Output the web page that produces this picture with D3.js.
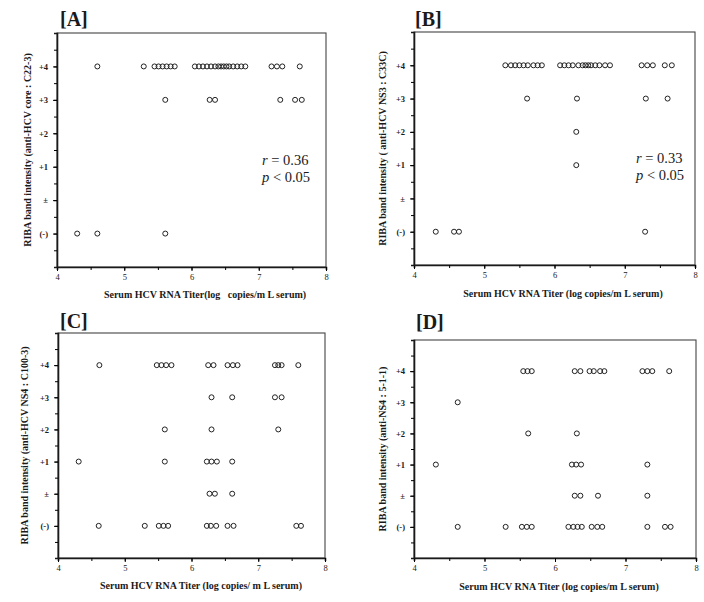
<!DOCTYPE html>
<html>
<head>
<meta charset="utf-8">
<script src="https://cdn.jsdelivr.net/npm/d3@7"></script>
<style>
  body { margin: 0; background: #fff; }
  svg { display: block; }
</style>
</head>
<body>
<svg id="chart" width="704" height="602"></svg>
<script>
// band intensity levels, bottom to top
const levelLabels = ["(-)", "\u00b1", "+1", "+2", "+3", "+4"];
const xTicks = [4, 5, 6, 7, 8];

// serum titers (log copies/mL) per RIBA band level
const pointsA = [
  ["+4", [4.60, 5.29, 5.45, 5.51, 5.57, 5.63, 5.69, 5.75, 6.05, 6.11, 6.17, 6.23, 6.29, 6.35, 6.40, 6.44, 6.48, 6.52, 6.56, 6.62, 6.68, 6.74, 6.80, 7.19, 7.27, 7.35, 7.61]],
  ["+3", [5.61, 6.27, 6.35, 7.32, 7.54, 7.64]],
  ["(-)", [4.30, 4.60, 5.61]]
];
const pointsB = [
  ["+4", [5.30, 5.38, 5.44, 5.50, 5.56, 5.62, 5.70, 5.76, 5.82, 6.08, 6.14, 6.20, 6.26, 6.34, 6.40, 6.44, 6.48, 6.52, 6.58, 6.64, 6.72, 6.79, 7.24, 7.32, 7.40, 7.57, 7.67]],
  ["+3", [5.61, 6.32, 7.30, 7.61]],
  ["+2", [6.31]],
  ["+1", [6.31]],
  ["(-)", [4.31, 4.57, 4.64, 7.29]]
];
const pointsC = [
  ["+4", [4.62, 5.48, 5.55, 5.62, 5.70, 6.25, 6.33, 6.54, 6.62, 6.69, 7.25, 7.30, 7.35, 7.60]],
  ["+3", [6.30, 6.61, 7.25, 7.35]],
  ["+2", [5.60, 6.30, 7.30]],
  ["+1", [4.31, 5.60, 6.23, 6.30, 6.38, 6.61]],
  ["\u00b1", [6.27, 6.35, 6.61]],
  ["(-)", [4.61, 5.30, 5.51, 5.58, 5.65, 6.23, 6.29, 6.37, 6.54, 6.63, 7.57, 7.64]]
];
const pointsD = [
  ["+4", [5.55, 5.61, 5.67, 6.28, 6.36, 6.49, 6.55, 6.64, 6.70, 7.24, 7.31, 7.38, 7.62]],
  ["+3", [4.62]],
  ["+2", [5.62, 6.31]],
  ["+1", [4.31, 6.24, 6.30, 6.37, 7.31]],
  ["\u00b1", [6.28, 6.36, 6.61, 7.31]],
  ["(-)", [4.62, 5.30, 5.53, 5.60, 5.67, 6.19, 6.26, 6.32, 6.38, 6.52, 6.60, 6.67, 7.31, 7.56, 7.64]]
];

const panels = [
  {title: "[A]", pts: pointsA, L: 57, R: 326, T: 33, B: 267, tx: 60, ty: 26,
   ylab: "RIBA band intensity (anti-HCV core : C22-3)", ylx: 31, xlab: "Serum HCV RNA Titer(log\u00a0\u00a0\u00a0copies/m L serum)", xly: 298, xlx: 205,
   stats: ["0.36", "0.05"], sx: 262, sy: 165},
  {title: "[B]", pts: pointsB, L: 414, R: 695, T: 32, B: 265, tx: 415, ty: 26,
   ylab: "RIBA band intensity ( anti-HCV NS3 : C33C)", ylx: 386, xlab: "Serum HCV RNA Titer (log copies/m L serum)", xly: 297, xlx: 563,
   stats: ["0.33", "0.05"], sx: 636, sy: 163},
  {title: "[C]", pts: pointsC, L: 58, R: 325, T: 333, B: 558, tx: 60, ty: 328,
   ylab: "RIBA band intensity (anti-HCV NS4 : C100-3)", ylx: 28, xlab: "Serum HCV RNA Titer (log copies/ m L serum)", xly: 589, xlx: 201},
  {title: "[D]", pts: pointsD, L: 414, R: 696, T: 340, B: 558, tx: 416, ty: 329,
   ylab: "RIBA band intensity (anti-NS4 : 5-1-1)", ylx: 386, xlab: "Serum HCV RNA Titer (log copies/m L serum)", xly: 590, xlx: 559}
];

const svg = d3.select("#chart");
const serif = "'Liberation Serif', 'DejaVu Serif', serif";
const ink = "#1a1a1a";

panels.forEach(p => {
  const g = svg.append("g");

  const x = d3.scaleLinear().domain([4, 8]).range([p.L, p.R]);
  // levels mapped 0..5, with one empty step below and above
  const y = d3.scaleLinear().domain([-1, 6]).range([p.B, p.T]);
  const lvl = l => levelLabels.indexOf(l);

  // frame
  g.append("rect")
    .attr("x", p.L).attr("y", p.T)
    .attr("width", p.R - p.L).attr("height", p.B - p.T)
    .attr("fill", "none").attr("stroke", "#444").attr("stroke-width", 1.1);

  // x axis with half-unit minor ticks
  g.append("g")
    .attr("transform", `translate(0,${p.B})`)
    .call(d3.axisBottom(x).tickValues(d3.range(4, 8.01, 0.5)).tickSize(3).tickFormat(() => ""))
    .call(a => a.select(".domain").attr("stroke", ink).attr("stroke-width", 1.6));
  g.append("g")
    .attr("transform", `translate(0,${p.B})`)
    .call(d3.axisBottom(x).tickValues(xTicks).tickSize(4).tickPadding(3).tickFormat(d3.format("d")))
    .call(a => a.select(".domain").remove())
    .call(a => a.selectAll("text").attr("font-family", serif).attr("font-size", 8.5).attr("fill", ink));

  // y axis with half-level minor ticks
  g.append("g")
    .attr("transform", `translate(${p.L},0)`)
    .call(d3.axisLeft(y).tickValues(d3.range(-0.5, 6, 0.5)).tickSize(3).tickFormat(() => ""))
    .call(a => a.select(".domain").attr("stroke", ink).attr("stroke-width", 1.6));
  g.append("g")
    .attr("transform", `translate(${p.L},0)`)
    .call(d3.axisLeft(y).tickValues(d3.range(0, 6)).tickSize(4).tickPadding(5).tickFormat(i => levelLabels[i]))
    .call(a => a.select(".domain").remove())
    .call(a => a.selectAll("text").attr("font-family", serif).attr("font-size", 8.5)
      .attr("font-weight", "bold").attr("fill", ink));

  // points
  const flat = p.pts.flatMap(([l, vals]) => vals.map(v => ({level: l, titer: v})));
  g.selectAll("circle.pt")
    .data(flat)
    .join("circle")
    .attr("class", "pt")
    .attr("cx", d => x(d.titer))
    .attr("cy", d => y(lvl(d.level)))
    .attr("r", 2.5)
    .attr("fill", "none")
    .attr("stroke", "#222")
    .attr("stroke-width", 1);

  // panel letter
  g.append("text")
    .attr("x", p.tx).attr("y", p.ty)
    .attr("font-family", serif).attr("font-weight", "bold").attr("font-size", 20)
    .attr("fill", ink)
    .text(p.title);

  // axis titles
  g.append("text")
    .attr("transform", `translate(${p.ylx},${(p.T + p.B) / 2}) rotate(-90)`)
    .attr("text-anchor", "middle")
    .attr("font-family", serif).attr("font-weight", "bold").attr("font-size", 10)
    .attr("fill", ink)
    .text(p.ylab);
  g.append("text")
    .attr("x", p.xlx).attr("y", p.xly)
    .attr("text-anchor", "middle")
    .attr("font-family", serif).attr("font-weight", "bold").attr("font-size", 10)
    .attr("fill", ink)
    .text(p.xlab);

  // correlation note
  if (p.stats) {
    const t1 = g.append("text").attr("x", p.sx).attr("y", p.sy)
      .attr("font-family", serif).attr("font-size", 14.5).attr("fill", ink);
    t1.append("tspan").attr("font-style", "italic").text("r");
    t1.append("tspan").text(" = " + p.stats[0]);
    const t2 = g.append("text").attr("x", p.sx).attr("y", p.sy + 17)
      .attr("font-family", serif).attr("font-size", 14.5).attr("fill", ink);
    t2.append("tspan").attr("font-style", "italic").text("p");
    t2.append("tspan").text(" < " + p.stats[1]);
  }
});
</script>
</body>
</html>
